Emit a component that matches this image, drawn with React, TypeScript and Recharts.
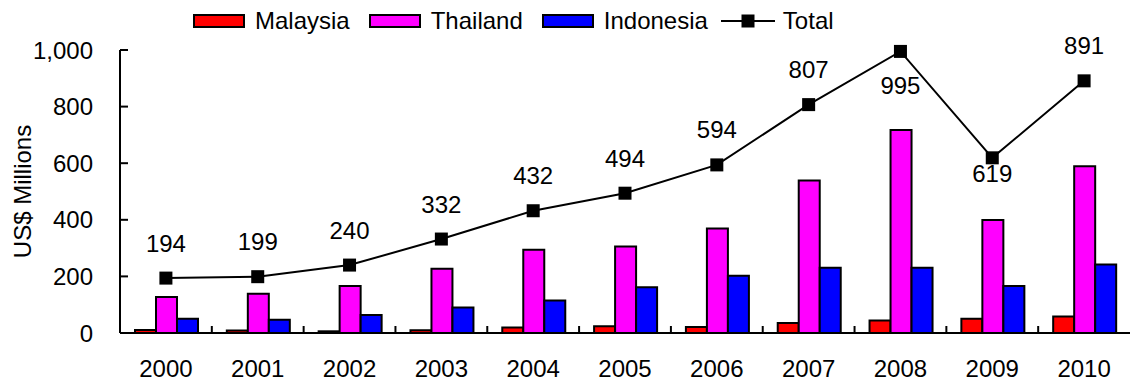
import React from 'react';
import { ComposedChart, Bar, Line, XAxis, YAxis, LabelList } from 'recharts';

// Investment by country, US$ millions
const years = ['2000', '2001', '2002', '2003', '2004', '2005', '2006', '2007', '2008', '2009', '2010'];
const malaysia = [11, 9, 6, 10, 19, 24, 21, 35, 44, 50, 58];
const thailand = [127, 139, 166, 227, 294, 306, 369, 539, 717, 399, 589];
const indonesia = [50, 47, 64, 90, 115, 162, 202, 231, 231, 166, 242];
const total = [194, 199, 240, 332, 432, 494, 594, 807, 995, 619, 891];
const yTicks = [0, 200, 400, 600, 800, 1000];

const data = years.map((year, i) => ({
  year,
  malaysia: malaysia[i],
  thailand: thailand[i],
  indonesia: indonesia[i],
  total: total[i],
}));

const WIDTH = 1130;
const HEIGHT = 383;
const Y_AXIS_W = 120;
const BAND = (WIDTH - Y_AXIS_W) / years.length;
const FONT = '"Liberation Sans", Arial, sans-serif';
const FS = 24;

const RED = '#FF0000';
const MAGENTA = '#FF00FF';
const BLUE = '#0000FF';

// Labels that sit beneath their marker instead of above it
const LABEL_BELOW: Record<string, number> = { '2008': 34, '2009': 15.5 };

function YearTick(props: any) {
  const { x, y, payload, index } = props;
  return (
    <g>
      {index > 0 && (
        <line x1={x - BAND / 2} x2={x - BAND / 2} y1={y} y2={y - 7} stroke="#000" strokeWidth={2} />
      )}
      <text x={x} y={y + 44} textAnchor="middle" fontSize={FS} fontFamily={FONT} fill="#000">
        {payload.value}
      </text>
    </g>
  );
}

function ValueTick(props: any) {
  const { x, y, payload } = props;
  return (
    <g>
      <line x1={x} x2={x + 8} y1={y} y2={y} stroke="#000" strokeWidth={2} />
      <text x={x - 27} y={y + 8.5} textAnchor="end" fontSize={FS} fontFamily={FONT} fill="#000">
        {payload.value.toLocaleString('en-US')}
      </text>
    </g>
  );
}

function TotalLabel(props: any) {
  const { x, y, value } = props;
  const idx = typeof props.index === 'number' ? props.index : total.indexOf(Number(value));
  const yr = years[idx];
  const center = yr in LABEL_BELOW ? y + LABEL_BELOW[yr] : y - 35;
  return (
    <text x={x} y={center + 8.5} textAnchor="middle" fontSize={FS} fontFamily={FONT} fill="#000">
      {value}
    </text>
  );
}

function SquareDot(props: any) {
  const { cx, cy, index } = props;
  return <rect key={`dot-${index}`} x={cx - 6.5} y={cy - 6.5} width={13} height={13} fill="#000" />;
}

function ChartLegend() {
  const swatch = (color: string) => (
    <span
      style={{
        display: 'inline-block',
        width: 48,
        height: 10,
        border: '2px solid #000',
        background: color,
        marginRight: 10,
      }}
    />
  );
  const items = [
    { name: 'Malaysia', color: RED },
    { name: 'Thailand', color: MAGENTA },
    { name: 'Indonesia', color: BLUE },
  ];
  return (
    <div
      style={{
        position: 'absolute',
        left: 193,
        top: 9,
        display: 'flex',
        alignItems: 'center',
        fontFamily: FONT,
        fontSize: FS,
        lineHeight: '24px',
        height: 24,
        color: '#000',
        whiteSpace: 'nowrap',
      }}
    >
      {items.map((it) => (
        <span key={it.name} style={{ display: 'flex', alignItems: 'center', marginRight: 19 }}>
          {swatch(it.color)}
          <span>{it.name}</span>
        </span>
      ))}
      <svg width={54} height={16} style={{ marginLeft: -6, marginRight: 8 }}>
        <line x1={0} x2={54} y1={8} y2={8} stroke="#000" strokeWidth={2} />
        <rect x={20.5} y={1.5} width={13} height={13} fill="#000" />
      </svg>
      <span>Total</span>
    </div>
  );
}

export default function App() {
  return (
    <div style={{ position: 'absolute', left: 0, top: 0, width: WIDTH, height: HEIGHT, background: '#fff' }}>
      <ComposedChart
        width={WIDTH}
        height={HEIGHT}
        data={data}
        margin={{ top: 50, right: 0, bottom: 0, left: 0 }}
        barCategoryGap={15}
        barGap={0}
      >
        <XAxis
          dataKey="year"
          height={50}
          axisLine={{ stroke: '#000', strokeWidth: 2 }}
          tickLine={false}
          tickSize={0}
          tickMargin={0}
          tick={<YearTick />}
          interval={0}
        />
        <YAxis
          width={Y_AXIS_W}
          domain={[0, 1000]}
          ticks={yTicks}
          axisLine={{ stroke: '#000', strokeWidth: 2 }}
          tickLine={false}
          tickSize={0}
          tickMargin={0}
          tick={<ValueTick />}
          label={{
            value: 'US$ Millions',
            angle: -90,
            position: 'insideLeft',
            offset: 0,
            dx: 22,
            style: { fontSize: FS, fontFamily: FONT, fill: '#000', textAnchor: 'middle' },
          }}
        />
        <Bar dataKey="malaysia" name="Malaysia" fill={RED} stroke="#000" strokeWidth={2} isAnimationActive={false} />
        <Bar dataKey="thailand" name="Thailand" fill={MAGENTA} stroke="#000" strokeWidth={2} isAnimationActive={false} />
        <Bar dataKey="indonesia" name="Indonesia" fill={BLUE} stroke="#000" strokeWidth={2} isAnimationActive={false} />
        <Line
          dataKey="total"
          name="Total"
          stroke="#000"
          strokeWidth={2}
          dot={SquareDot}
          activeDot={false}
          isAnimationActive={false}
        >
          <LabelList dataKey="total" content={TotalLabel} />
        </Line>
      </ComposedChart>
      <ChartLegend />
    </div>
  );
}
